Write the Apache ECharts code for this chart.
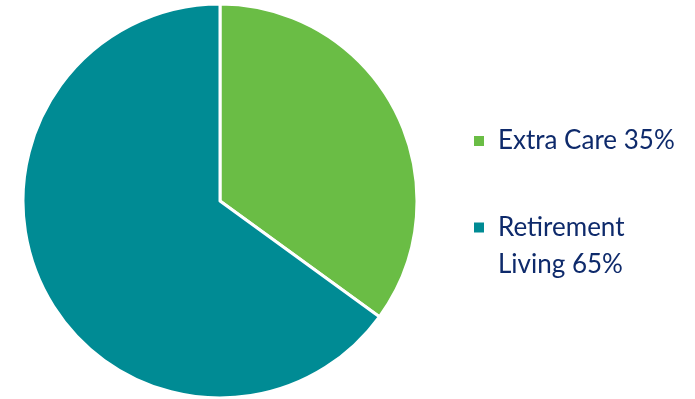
<!DOCTYPE html>
<html lang="en">
<head>
    <meta charset="UTF-8">
    <title>Extra Care / Retirement Living</title>
    <script src="https://cdn.jsdelivr.net/npm/echarts@6/dist/echarts.min.js"></script>
</head>
<body style="margin:0">
<div id="chart" style="width:695px;height:399px"></div>
<script type="text/javascript">
    // data
    var categories = ['Extra Care', 'Retirement Living'];
    var values = [35, 65];
    var legendLabels = ['Extra Care 35%', 'Retirement\nLiving 65%'];
    var colors = ['#6abd45', '#008b94'];

    var chart = echarts.init(document.getElementById('chart'));

    var pieData = categories.map(function (c, i) {
        return { name: c, value: values[i], itemStyle: { color: colors[i] } };
    });

    // legend text; a two-line label gets an empty first line so that the
    // marker sits next to its first line, as in the original
    function labelOf(name) {
        var s = legendLabels[categories.indexOf(name)];
        return s.indexOf('\n') >= 0 ? '\u00a0\n' + s : s;
    }

    var legendText = {
        fontFamily: 'Lato, "Open Sans", sans-serif',
        fontSize: 26,
        color: '#0e2a6b',
        lineHeight: 37,
        padding: [0, 0, 0, 8]
    };

    var legendBase = {
        orient: 'vertical',
        left: 472,
        padding: 0,
        icon: 'rect',
        itemWidth: 12,
        itemHeight: 12,
        formatter: labelOf,
        textStyle: legendText
    };

    var option = {
        animation: false,
        legend: [
            Object.assign({ top: 122.5, data: [categories[0]] }, legendBase),
            Object.assign({ top: 172, data: [categories[1]] }, legendBase)
        ],
        series: [{
            name: 'Share',
            type: 'pie',
            center: [220, 201],
            radius: 197,
            startAngle: 90,
            clockwise: true,
            label: { show: false },
            labelLine: { show: false },
            itemStyle: { borderColor: '#fff', borderWidth: 3 },
            emphasis: { disabled: true },
            data: pieData
        }]
    };
    chart.setOption(option);
</script>
</body>
</html>
